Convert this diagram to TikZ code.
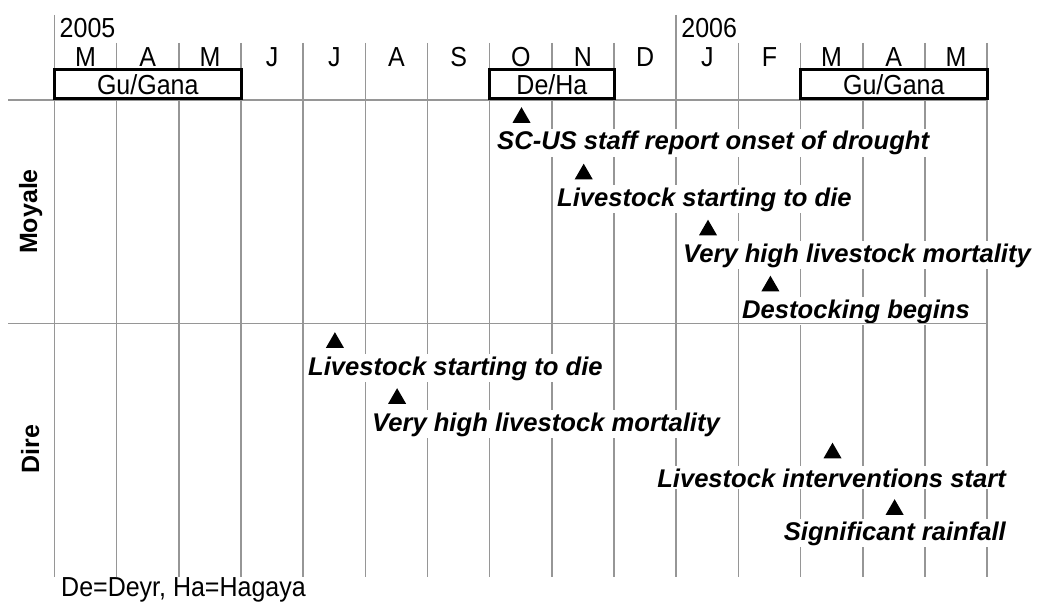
\documentclass[tikz,border=0pt]{standalone}
\usepackage{fontspec}
\setmainfont{Liberation Sans}
\usetikzlibrary{shapes.geometric}
\definecolor{gridgray}{RGB}{150,150,150}
\newcommand{\talltext}[1]{\scalebox{1}[1.1]{#1}}
\begin{document}
\begin{tikzpicture}[x=1pt,y=-1pt,
  grid/.style={draw=gridgray, line width=1.6pt},
  season/.style={draw=black, line width=3pt, fill=white, inner sep=0pt,
    font=\fontsize{25}{30}\selectfont, minimum height=29pt},
  month/.style={font=\fontsize{25}{30}\selectfont, anchor=base, inner sep=0pt},
  year/.style={font=\fontsize{25}{30}\selectfont, anchor=base west, inner sep=0pt},
  ev/.style={font=\fontsize{25.6}{30}\selectfont\bfseries\itshape, fill=white,
    inner xsep=2pt, inner ysep=2pt},
  tri/.style={regular polygon, regular polygon sides=3, fill=black,
    minimum size=20.8pt, inner sep=0pt, outer sep=0pt},
  region/.style={font=\fontsize{25}{30}\selectfont\bfseries, rotate=90,
    anchor=base, inner sep=0pt}]
\useasboundingbox (0,0) rectangle (1043,604);
\fill[white] (0,0) rectangle (1043,604);
% grid
\foreach \k in {0,...,15} {
  \pgfmathsetmacro{\xx}{54.5+62.17*\k}
  \draw[grid] (\xx,43) -- (\xx,577);
}
\draw[grid] (54.5,15) -- (54.5,43);
\draw[grid] (676.2,15) -- (676.2,43);
% years
\node[year] (y2005) at (59.5,38) {\talltext{2005}};
\node[year] (y2006) at (681.2,38) {\talltext{2006}};
% months
\foreach \m [count=\i from 0] in {M,A,M,J,J,A,S,O,N,D,J,F,M,A,M} {
  \pgfmathsetmacro{\xx}{54.5+62.17*(\i+0.5)}
  \node[month] (m\i) at (\xx,67) {\talltext{\m}};
}
% regions
\node[region] (moyale) at (37,211.5) {Moyale};
\node[region] (dire) at (39,449) {Dire};
% events: triangles
\node[tri] (t1) at (521.5,117.6) {};
\node[tri] (t2) at (583.7,174.1) {};
\node[tri] (t3) at (708.0,230.1) {};
\node[tri] (t4) at (770.4,286.1) {};
\node[tri] (t5) at (334.9,342.6) {};
\node[tri] (t6) at (397.1,398.6) {};
\node[tri] (t7) at (832.5,453.1) {};
\node[tri] (t8) at (894.6,509.6) {};
% events: labels
\node[ev, anchor=base west] (l1) at (495,150) {SC-US staff report onset of drought};
\node[ev, anchor=base west] (l2) at (555,206) {Livestock starting to die};
\node[ev, anchor=base west] (l3) at (681,262) {Very high livestock mortality};
\node[ev, anchor=base west] (l4) at (740,318) {Destocking begins};
\node[ev, anchor=base west] (l5) at (306,375) {Livestock starting to die};
\node[ev, anchor=base west] (l6) at (370,431) {Very high livestock mortality};
\node[ev, anchor=base east] (l7) at (1008,487) {Livestock interventions start};
\node[ev, anchor=base east] (l8) at (1008,540) {Significant rainfall};
% separators
\draw[grid] (8,100) -- (987,100);
\draw[grid] (8,323.5) -- (987,323.5);
% seasons
\node[season, minimum width=186.5pt] (gu1) at (147.75,84.5) {\talltext{Gu/Gana}};
\node[season, minimum width=124.3pt] (deha) at (551.9,84.5) {\talltext{De/Ha}};
\node[season, minimum width=186.5pt] (gu2) at (893.8,84.5) {\talltext{Gu/Gana}};
% footnote
\node[year] (note) at (61,596) {\talltext{De=Deyr, Ha=Hagaya}};
\end{tikzpicture}
\end{document}
